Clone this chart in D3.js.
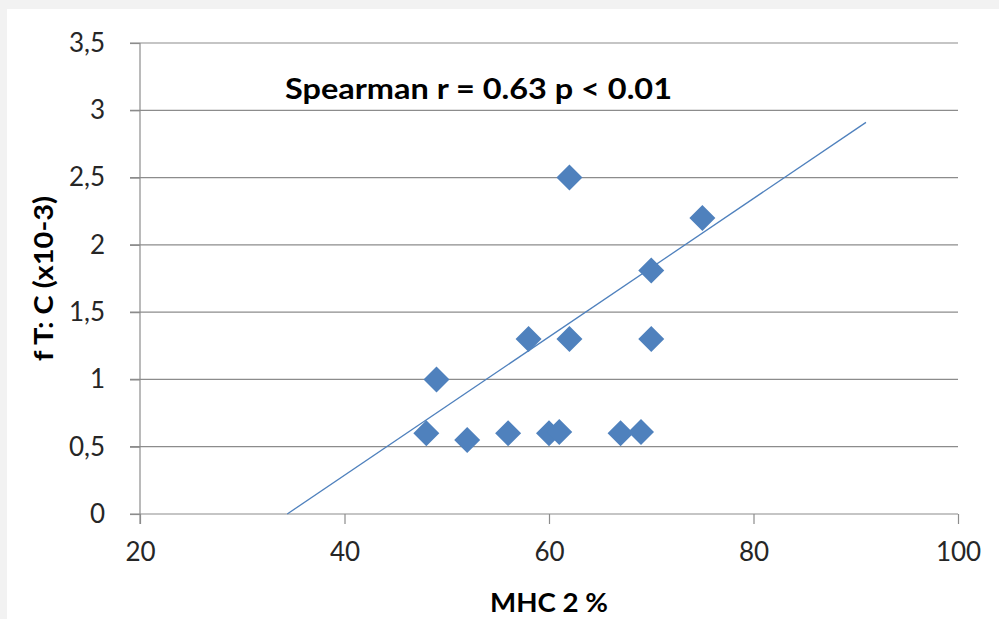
<!DOCTYPE html>
<html>
<head>
<meta charset="utf-8">
<script src="https://cdn.jsdelivr.net/npm/d3@7"></script>
<style>
  html, body { margin: 0; padding: 0; background: #f2f2f2; }
  #chart { position: absolute; left: 7px; top: 9px; }
</style>
</head>
<body>
<div id="chart"></div>
<script>
const width = 992;
const height = 610;

// Data
const mhc = [48, 49, 52, 56, 58, 60, 61, 62, 62, 67, 69, 70, 70, 75];
const ftc = [0.6, 1.0, 0.55, 0.6, 1.3, 0.6, 0.61, 2.5, 1.3, 0.6, 0.61, 1.81, 1.3, 2.2];
const trendStart = [34.4, 0];
const trendEnd = [91, 2.91];
const xTicks = [20, 40, 60, 80, 100];
const yTicks = [0, 0.5, 1, 1.5, 2, 2.5, 3, 3.5];

const points = mhc.map((x, i) => ({ x, y: ftc[i] }));

const margin = { left: 133, right: 41, top: 34, bottom: 105 };

const x = d3.scaleLinear()
    .domain([20, 100])
    .range([margin.left, width - margin.right]);

const y = d3.scaleLinear()
    .domain([0, 3.5])
    .range([height - margin.bottom, margin.top]);

const fmt = d => String(d).replace(".", ",");
const font = "Lato, 'Open Sans', sans-serif";

const svg = d3.create("svg")
    .attr("width", width)
    .attr("height", height)
    .style("background", "#fff");

// Gridlines
svg.append("g")
    .selectAll("line")
    .data(yTicks.filter(d => d > 0))
    .join("line")
    .attr("x1", x(20) - 10)
    .attr("x2", x(100))
    .attr("y1", d => y(d))
    .attr("y2", d => y(d))
    .attr("stroke", "#8c8c8c")
    .attr("stroke-width", 1.2);

// Axes
const xAxis = svg.append("g")
    .attr("transform", `translate(0,${y(0)})`)
    .call(d3.axisBottom(x).tickValues(xTicks).tickSize(10).tickPadding(19).tickFormat(d3.format("d")));

const yAxis = svg.append("g")
    .attr("transform", `translate(${x(20)},0)`)
    .call(d3.axisLeft(y).tickValues(yTicks).tickSize(10).tickPadding(25).tickFormat(fmt));

[xAxis, yAxis].forEach(a => {
    a.select(".domain").remove();
    a.selectAll("line").attr("stroke", "#8c8c8c").attr("stroke-width", 1.2);
    a.selectAll("text")
        .attr("font-family", font)
        .attr("font-size", 26)
        .attr("fill", "#262626");
});

// Axis lines (x axis extends left to the tick, y axis extends down to the tick)
svg.append("line")
    .attr("x1", x(20) - 10).attr("x2", x(100))
    .attr("y1", y(0)).attr("y2", y(0))
    .attr("stroke", "#8c8c8c").attr("stroke-width", 1.2);
svg.append("line")
    .attr("x1", x(20)).attr("x2", x(20))
    .attr("y1", y(3.5)).attr("y2", y(0) + 10)
    .attr("stroke", "#8c8c8c").attr("stroke-width", 1.2);

// Trend line
svg.append("line")
    .attr("x1", x(trendStart[0])).attr("y1", y(trendStart[1]))
    .attr("x2", x(trendEnd[0])).attr("y2", y(trendEnd[1]))
    .attr("stroke", "#4f81bd")
    .attr("stroke-width", 1.3);

// Diamonds
svg.append("g")
    .selectAll("path")
    .data(points)
    .join("path")
    .attr("transform", d => `translate(${x(d.x)},${y(d.y)})`)
    .attr("d", "M0,-13L13,0L0,13L-13,0Z")
    .attr("fill", "#4f81bd");

// Annotation
svg.append("text")
    .attr("x", 471.5)
    .attr("y", 90)
    .attr("text-anchor", "middle")
    .attr("font-family", font)
    .attr("font-weight", "bold")
    .attr("font-size", 29)
    .attr("textLength", 387)
    .attr("lengthAdjust", "spacingAndGlyphs")
    .attr("fill", "#000")
    .text("Spearman r = 0.63 p < 0.01");

// Axis titles
svg.append("text")
    .attr("x", (x(20) + x(100)) / 2)
    .attr("y", 603)
    .attr("text-anchor", "middle")
    .attr("font-family", font)
    .attr("font-weight", "bold")
    .attr("font-size", 26)
    .attr("textLength", 118)
    .attr("lengthAdjust", "spacingAndGlyphs")
    .attr("fill", "#000")
    .text("MHC 2 %");

svg.append("text")
    .attr("transform", `translate(46,${(y(0) + y(3.5)) / 2}) rotate(-90)`)
    .attr("text-anchor", "middle")
    .attr("font-family", font)
    .attr("font-weight", "bold")
    .attr("font-size", 26)
    .attr("textLength", 165)
    .attr("lengthAdjust", "spacingAndGlyphs")
    .attr("fill", "#000")
    .text("f T: C (x10-3)");

document.querySelector("#chart").append(svg.node());
</script>
</body>
</html>
